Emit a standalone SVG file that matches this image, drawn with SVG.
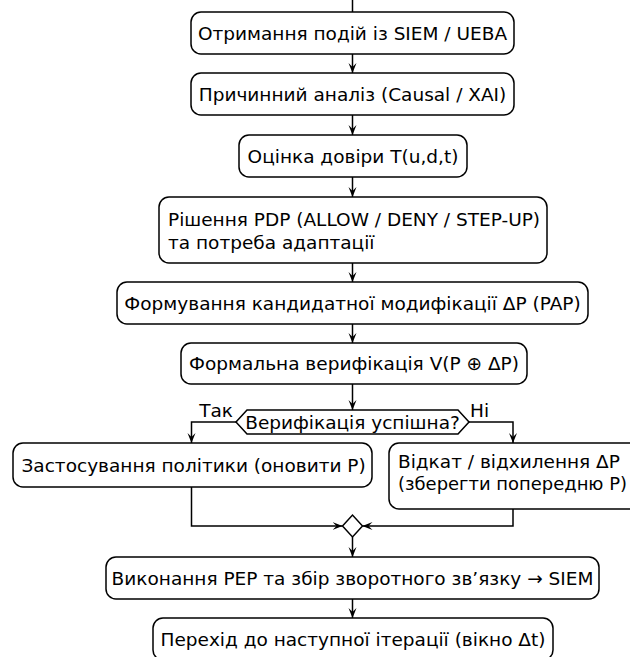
<svg xmlns="http://www.w3.org/2000/svg" width="630" height="657" viewBox="0 0 630 657">
<style>
.box{fill:#fff;stroke:#000;stroke-width:1.5}
.t{font-family:"DejaVu Sans",sans-serif;font-size:18.5px;fill:#000}
.c{text-anchor:middle}
.ln{fill:none;stroke:#000;stroke-width:1.5}
</style>
<defs>
<marker id="ah" viewBox="0 0 10 10" refX="10" refY="5" markerWidth="10" markerHeight="10" markerUnits="userSpaceOnUse" orient="auto">
<path d="M0,1 L10,5 L0,9 L4,5 Z" fill="#000"/>
</marker>
</defs>
<rect width="630" height="657" fill="#fff"/>
<g id="connectors">
<line class="ln" x1="352.5" y1="0" x2="352.5" y2="12"/>
<line class="ln" x1="352.5" y1="54" x2="352.5" y2="73" marker-end="url(#ah)"/>
<line class="ln" x1="352.5" y1="115" x2="352.5" y2="135" marker-end="url(#ah)"/>
<line class="ln" x1="352.5" y1="177" x2="352.5" y2="197" marker-end="url(#ah)"/>
<line class="ln" x1="352.5" y1="263" x2="352.5" y2="282" marker-end="url(#ah)"/>
<line class="ln" x1="352.5" y1="324" x2="352.5" y2="343" marker-end="url(#ah)"/>
<line class="ln" x1="352.5" y1="384" x2="352.5" y2="410" marker-end="url(#ah)"/>
<path class="ln" d="M236,422 H191.5 V443" marker-end="url(#ah)"/>
<path class="ln" d="M469,422 H513 V443" marker-end="url(#ah)"/>
<path class="ln" d="M191.5,487 V526 H342.5" marker-end="url(#ah)"/>
<path class="ln" d="M513,509 V526 H362.5" marker-end="url(#ah)"/>
<line class="ln" x1="352.5" y1="537" x2="352.5" y2="557" marker-end="url(#ah)"/>
<line class="ln" x1="352.5" y1="599" x2="352.5" y2="618" marker-end="url(#ah)"/>
<text class="t" x="233" y="417" text-anchor="end">Так</text>
<text class="t" x="470" y="417">Ні</text>
</g>
<g id="n1">
<rect class="box" x="191" y="12" width="323" height="42" rx="10"/>
<text class="t c" x="352.5" y="39.5">Отримання подій із SIEM / UEBA</text>
</g>
<g id="n2">
<rect class="box" x="191" y="73" width="323" height="42" rx="10"/>
<text class="t c" x="352.5" y="100.5">Причинний аналіз (Causal / XAI)</text>
</g>
<g id="n3">
<rect class="box" x="239" y="135" width="228" height="42" rx="10"/>
<text class="t c" x="353" y="162.5">Оцінка довіри T(u,d,t)</text>
</g>
<g id="n4">
<rect class="box" x="159" y="197" width="388" height="66" rx="10"/>
<text class="t" x="168" y="225.5">Рішення PDP (ALLOW / DENY / STEP-UP)</text>
<text class="t" x="168" y="248.5">та потреба адаптації</text>
</g>
<g id="n5">
<rect class="box" x="117" y="282" width="471" height="42" rx="10"/>
<text class="t c" x="352.5" y="309.5">Формування кандидатної модифікації ΔP (PAP)</text>
</g>
<g id="n6">
<rect class="box" x="181" y="343" width="346" height="41" rx="10"/>
<text class="t c" x="354" y="370">Формальна верифікація V(P ⊕ ΔP)</text>
</g>
<g id="d1">
<polygon class="box" points="236,422 247,410 458,410 469,422 458,434 247,434"/>
<text class="t c" x="352.5" y="428.5">Верифікація успішна?</text>
</g>
<g id="n7">
<rect class="box" x="13" y="443" width="359" height="44" rx="10"/>
<text class="t" x="21.5" y="471.5">Застосування політики (оновити P)</text>
</g>
<g id="n8">
<rect class="box" x="389" y="443" width="250" height="66" rx="10"/>
<text class="t" x="398" y="468">Відкат / відхилення ΔP</text>
<text class="t" x="398" y="490" textLength="229" lengthAdjust="spacingAndGlyphs">(зберегти попередню P)</text>
</g>
<g id="m1">
<polygon class="box" points="342.5,526 352.5,515 362.5,526 352.5,537"/>
</g>
<g id="n9">
<rect class="box" x="106" y="557" width="493" height="42" rx="10"/>
<text class="t c" x="352.5" y="584.5">Виконання PEP та збір зворотного зв’язку → SIEM</text>
</g>
<g id="n10">
<rect class="box" x="153" y="618" width="400" height="42" rx="10"/>
<text class="t c" x="353" y="645.5">Перехід до наступної ітерації (вікно Δt)</text>
</g>
</svg>
